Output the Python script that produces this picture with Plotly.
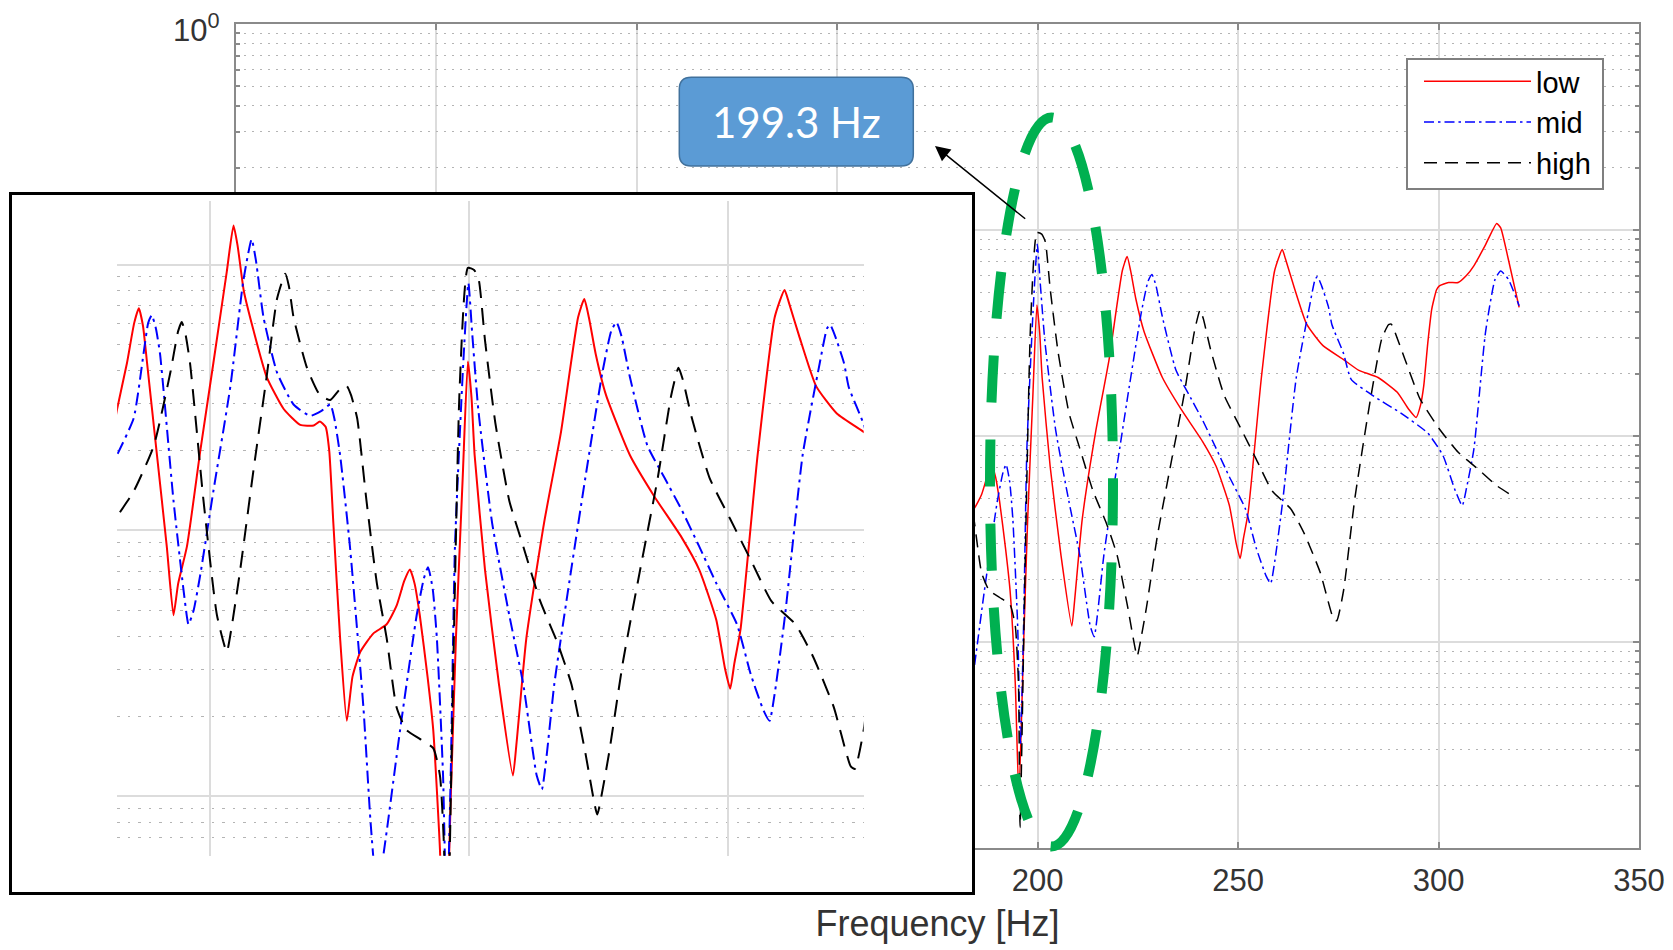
import numpy as np
import plotly.graph_objects as go

W, H = 1673, 950

# ---------------- data (frequency in Hz, magnitude as log10) -------------
low_freq = [130.0, 132.0, 133.9, 135.3, 136.2, 137.0, 137.8, 139.7, 141.6, 142.9, 143.8, 145.5,
            148.1, 150.6, 153.2, 154.5, 155.3, 156.5, 158.4, 160.9, 164.2, 167.4, 170.0, 171.2,
            172.3, 173.0, 173.8, 175.1, 176.4, 177.5, 179.0, 181.5, 184.1, 186.0, 187.5, 188.6,
            189.5, 190.5, 192.0, 193.1, 194.4, 195.3, 196.5, 197.5, 198.8, 199.8, 200.5, 201.1,
            203.1, 205.8, 208.5, 209.2, 211.1, 214.5, 217.8, 221.1, 222.3, 223.2, 224.5, 226.5,
            231.1, 235.8, 241.1, 244.5, 247.8, 249.5, 250.5, 251.3, 252.5, 255.8, 259.1, 261.0,
            261.8, 263.8, 267.1, 271.1, 276.3, 280.0, 284.9, 289.7, 292.5, 294.4, 295.5, 296.3,
            297.3, 298.3, 299.5, 300.2, 302.5, 304.9, 307.0, 308.8, 311.5, 314.5, 315.5, 317.4,
            320.1]
low_log10 = [-1.75, -1.543, -1.371, -1.22, -1.164, -1.23, -1.371, -1.716, -2.06, -2.319, -2.20, -2.06,
             -1.698, -1.371, -1.026, -0.853, -0.93, -1.10, -1.25, -1.422, -1.543, -1.603, -1.605, -1.59,
             -1.61, -1.70, -1.974, -2.405, -2.716, -2.55, -2.457, -2.388, -2.353, -2.284, -2.19, -2.147,
             -2.20, -2.319, -2.55, -2.75, -3.2, -3.75, -3.0, -2.4, -1.8, -1.364, -1.50, -1.716,
             -2.147, -2.578, -2.922, -2.8, -2.405, -1.974, -1.629, -1.198, -1.129, -1.20, -1.336, -1.491,
             -1.716, -1.871, -2.026, -2.147, -2.336, -2.52, -2.595, -2.50, -2.371, -1.716, -1.198, -1.095,
             -1.14, -1.267, -1.457, -1.56, -1.629, -1.68, -1.716, -1.788, -1.869, -1.91, -1.85, -1.757,
             -1.55, -1.384, -1.29, -1.271, -1.255, -1.255, -1.22, -1.174, -1.08, -0.968, -0.99, -1.142,
             -1.376]

mid_freq = [130.0, 132.0, 135.2, 137.1, 138.0, 138.7, 139.5, 140.3, 142.9, 145.0, 145.8, 146.8,
            148.1, 150.6, 153.9, 156.4, 158.0, 158.8, 160.3, 162.9, 166.1, 169.3, 171.5, 173.2,
            174.0, 175.1, 177.0, 179.6, 181.0, 182.2, 183.5, 186.7, 189.9, 191.3, 192.1, 193.0,
            193.8, 195.0, 195.7, 196.5, 197.3, 198.9, 199.9, 200.6, 201.8, 204.5, 207.8, 210.5,
            213.1, 214.1, 215.0, 216.5, 219.1, 222.5, 225.8, 227.5, 228.5, 229.5, 231.1, 234.5,
            237.8, 241.1, 244.5, 247.8, 251.8, 254.5, 257.0, 258.1, 259.2, 261.1, 264.5, 267.8,
            269.2, 269.8, 270.8, 272.5, 273.4, 276.3, 278.2, 283.9, 290.6, 297.3, 301.1, 304.0,
            305.9, 307.0, 308.8, 311.7, 314.1, 315.5, 317.4, 320.1]
mid_log10 = [-1.80, -1.716, -1.578, -1.336, -1.22, -1.19, -1.24, -1.336, -1.888, -2.25, -2.353, -2.30,
             -2.164, -1.853, -1.457, -1.06, -0.905, -0.98, -1.198, -1.405, -1.526, -1.569, -1.55, -1.526,
             -1.58, -1.716, -2.06, -2.664, -3.10, -3.35, -3.216, -2.75, -2.319, -2.18, -2.138, -2.22,
             -2.405, -2.922, -3.5, -2.9, -2.06, -1.371, -1.069, -1.25, -1.543, -1.974, -2.319, -2.578,
             -2.922, -2.974, -2.85, -2.578, -2.233, -1.802, -1.405, -1.25, -1.216, -1.27, -1.422, -1.681,
             -1.802, -1.922, -2.06, -2.198, -2.353, -2.543, -2.68, -2.716, -2.60, -2.319, -1.716, -1.371,
             -1.24, -1.226, -1.27, -1.371, -1.46, -1.60, -1.725, -1.808, -1.889, -1.986, -2.095, -2.257,
             -2.338, -2.25, -2.065, -1.498, -1.239, -1.199, -1.239, -1.368]

high_freq = [130.0, 132.0, 135.2, 139.1, 142.3, 143.8, 144.5, 145.2, 146.1, 148.7, 151.3, 153.2,
             154.0, 155.8, 158.4, 160.9, 162.9, 164.5, 165.2, 166.1, 168.7, 171.2, 173.2, 175.0,
             176.4, 177.2, 178.4, 180.2, 182.2, 184.1, 186.0, 187.9, 190.5, 193.1, 194.4, 195.2,
             195.6, 196.5, 197.3, 198.2, 199.8, 201.0, 201.9, 203.1, 205.1, 207.8, 210.5, 213.8,
             217.1, 219.8, 222.5, 224.8, 225.6, 227.1, 229.8, 233.1, 236.5, 239.1, 240.5, 241.3,
             243.1, 246.5, 250.5, 254.5, 258.5, 263.1, 266.5, 270.5, 273.8, 274.6, 276.3, 279.1,
             283.0, 285.8, 287.5, 288.2, 289.0, 291.6, 295.4, 300.2, 304.9, 309.8, 314.5, 318.9]
high_log10 = [-2.02, -1.948, -1.853, -1.681, -1.405, -1.25, -1.216, -1.26, -1.371, -1.888, -2.319, -2.457,
              -2.38, -2.147, -1.767, -1.422, -1.129, -1.034, -1.08, -1.198, -1.388, -1.491, -1.509, -1.47,
              -1.457, -1.49, -1.578, -1.888, -2.198, -2.405, -2.664, -2.75, -2.784, -2.819, -2.922, -3.20,
              -3.9, -3.0, -2.2, -1.466, -1.012, -1.02, -1.057, -1.284, -1.595, -1.888, -2.06, -2.267,
              -2.422, -2.578, -2.836, -3.069, -3.0, -2.836, -2.491, -2.147, -1.802, -1.491, -1.388, -1.43,
              -1.578, -1.802, -1.957, -2.112, -2.267, -2.353, -2.474, -2.664, -2.888, -2.897, -2.75, -2.305,
              -1.822, -1.53, -1.46, -1.457, -1.49, -1.627, -1.821, -1.966, -2.079, -2.16, -2.241, -2.297]

series_names = ["low", "mid", "high"]
x_label_vals = [200, 250, 300, 350]          # labelled ticks
x_hidden_vals = [0, 50, 100, 150]            # ticks/grid hidden behind the inset labels
y_tick_vals = [1e-4, 1e-3, 1e-2, 1e-1, 1e0]
y_top_label = "10<sup>0</sup>"
inset_x_grid = [150, 200, 250]
callout_text = "199.3 Hz"
x_title = "Frequency [Hz]"

# ---------------- helpers ----------------
def pxx(x):
    return x / W

def pxy(y):
    return 1 - y / H

minor_vals = [k * 10.0 ** e for e in range(-5, 0) for k in range(2, 10)]

colors = ["#ff0000", "#0000ff", "#000000"]
dash_main = ["solid", "10px,4px,2.5px,4px", "13px,8px"]
dash_inset = ["solid", "13px,5px,3px,5px", "17px,10px"]
data = [(low_freq, low_log10), (mid_freq, mid_log10), (high_freq, high_log10)]

fig = go.Figure()

for i, (f, lg) in enumerate(data):
    fig.add_trace(go.Scatter(
        x=f, y=np.power(10.0, np.array(lg)), name=series_names[i], mode="lines",
        line=dict(color=colors[i], width=1.5, dash=dash_main[i], shape="spline", smoothing=0.5),
        xaxis="x", yaxis="y", legendgroup=series_names[i], hoverinfo="skip"))

# placeholder trace that creates the white frame subplot behind the inset
fig.add_trace(go.Scatter(x=[0.5], y=[0.5], mode="markers", marker=dict(opacity=0, size=1),
                         xaxis="x2", yaxis="y2", showlegend=False, hoverinfo="skip"))

for i, (f, lg) in enumerate(data):
    fig.add_trace(go.Scatter(
        x=f, y=np.power(10.0, np.array(lg)), name=series_names[i], mode="lines",
        line=dict(color=colors[i], width=2, dash=dash_inset[i], shape="spline", smoothing=0.5),
        xaxis="x3", yaxis="y3", showlegend=False, hoverinfo="skip"))

grid_major = "#dcdcdc"
grid_minor = "#b4b4b4"
axis_col = "#8a8a8a"
txt_col = "#333333"
font_fam = "Liberation Sans, Arial, sans-serif"

fig.update_layout(
    width=W, height=H, autosize=False,
    margin=dict(l=0, r=0, t=0, b=0, pad=0),
    paper_bgcolor="white", plot_bgcolor="white",
    font=dict(family=font_fam, color=txt_col),
    showlegend=True,
    legend=dict(
        x=pxx(1419), y=pxy(56), xanchor="left", yanchor="top",
        bgcolor="rgba(0,0,0,0)", borderwidth=0,
        font=dict(size=29, color="#000000", family=font_fam),
        itemwidth=107, tracegroupgap=2, traceorder="normal",
    ),
    xaxis=dict(
        domain=[pxx(236), pxx(1639)], anchor="y", range=[0, 350],
        tickmode="array", tickvals=x_label_vals,
        ticks="inside", ticklen=6, tickwidth=1.5, tickcolor=axis_col,
        showline=True, linecolor=axis_col, linewidth=2, mirror="ticks",
        showgrid=True, gridcolor=grid_major, gridwidth=1.5, zeroline=False,
        minor=dict(tickmode="array", tickvals=x_hidden_vals, ticks="inside", ticklen=6,
                   tickwidth=1.5, tickcolor=axis_col, showgrid=True,
                   gridcolor=grid_major, gridwidth=1.5, griddash="solid"),
        tickfont=dict(size=31, color=txt_col), ticklabelstandoff=4,
        title=dict(text=x_title, font=dict(size=36, color=txt_col), standoff=14),
        automargin=False,
    ),
    yaxis=dict(
        domain=[pxy(848), pxy(24)], anchor="x", type="log", range=[-4, 0],
        tickmode="array", tickvals=y_tick_vals, showticklabels=False,
        ticks="inside", ticklen=6, tickwidth=1.5, tickcolor=axis_col,
        showline=True, linecolor=axis_col, linewidth=2, mirror="ticks",
        showgrid=True, gridcolor=grid_major, gridwidth=1.5, zeroline=False,
        minor=dict(tickmode="array", tickvals=minor_vals, ticks="inside", ticklen=4,
                   tickcolor=axis_col, showgrid=True, gridcolor=grid_minor,
                   griddash="2px,6px", gridwidth=1),
        automargin=False,
    ),
    # white framed box behind the inset
    xaxis2=dict(
        domain=[pxx(12.2), pxx(972)], anchor="y2", range=[0, 1],
        showgrid=False, zeroline=False, showticklabels=False, ticks="",
        showline=True, linecolor="#000000", linewidth=3, mirror=True, fixedrange=True,
    ),
    yaxis2=dict(
        domain=[pxy(891.5), pxy(195)], anchor="x2", range=[0, 1],
        showgrid=False, zeroline=False, showticklabels=False, ticks="",
        showline=True, linecolor="#000000", linewidth=3, mirror=True, fixedrange=True,
    ),
    # magnified inset
    xaxis3=dict(
        domain=[pxx(117.1), pxx(863.7)], anchor="y3", range=[132, 276.3],
        tickmode="array", tickvals=inset_x_grid, showticklabels=False, ticks="",
        showgrid=True, gridcolor=grid_major, gridwidth=2, zeroline=False, showline=False,
    ),
    yaxis3=dict(
        domain=[pxy(855.8), pxy(200.6)], anchor="x3", type="log", range=[-3.224, -0.759],
        tickmode="array", tickvals=[1e-3, 1e-2, 1e-1], showticklabels=False, ticks="",
        showgrid=True, gridcolor=grid_major, gridwidth=2, zeroline=False, showline=False,
        minor=dict(tickmode="array", tickvals=minor_vals, ticks="", showgrid=True,
                   gridcolor=grid_minor, griddash="2.5px,8px", gridwidth=1.3),
    ),
)

# legend frame
fig.add_shape(type="rect", xref="paper", yref="paper", layer="above",
              x0=pxx(1407), x1=pxx(1603), y0=pxy(59), y1=pxy(189),
              fillcolor="white", line=dict(color="#7f7f7f", width=2))

# rounded call-out box
x0, x1 = pxx(679.3), pxx(913.3)
y0, y1 = pxy(77.3), pxy(166)
rx, ry = 12 / W, 12 / H
path = (f"M{x0+rx},{y0} L{x1-rx},{y0} Q{x1},{y0} {x1},{y0-ry} L{x1},{y1+ry} Q{x1},{y1} {x1-rx},{y1} "
        f"L{x0+rx},{y1} Q{x0},{y1} {x0},{y1+ry} L{x0},{y0-ry} Q{x0},{y0} {x0+rx},{y0} Z")
fig.add_shape(type="path", path=path, xref="paper", yref="paper", layer="above",
              fillcolor="#5b9bd5", line=dict(color="#41719c", width=1.5))

# green dashed ellipse, drawn as bezier path starting at the top and running counter-clockwise
cx, cy, erx, ery = 1051.5, 482.0, 61.5, 364.5
k = 0.5523
pts = [
    ("M", [(cx, cy - ery)]),
    ("C", [(cx - k * erx, cy - ery), (cx - erx, cy - k * ery), (cx - erx, cy)]),
    ("C", [(cx - erx, cy + k * ery), (cx - k * erx, cy + ery), (cx, cy + ery)]),
    ("C", [(cx + k * erx, cy + ery), (cx + erx, cy + k * ery), (cx + erx, cy)]),
    ("C", [(cx + erx, cy - k * ery), (cx + k * erx, cy - ery), (cx, cy - ery)]),
]
epath = " ".join(cmd + " ".join(f"{pxx(a):.6f},{pxy(b):.6f}" for a, b in p) for cmd, p in pts)
fig.add_shape(type="path", path=epath, xref="paper", yref="paper", layer="above",
              line=dict(color="#00b050", width=10, dash="47px,37px"))

fig.add_annotation(x=pxx(796.4), y=pxy(121.7), xref="paper", yref="paper",
                   text=callout_text, showarrow=False, xanchor="center", yanchor="middle",
                   font=dict(family="Lato, Open Sans, sans-serif", size=42, color="white"))

fig.add_annotation(x=pxx(935), y=pxy(146), xref="paper", yref="paper", text="",
                   showarrow=True, ax=91.7, ay=74, arrowhead=2, arrowsize=2,
                   arrowwidth=1.5, arrowcolor="#000000", standoff=0)

# top y tick label
fig.add_annotation(x=pxx(222), y=pxy(28), xref="paper", yref="paper",
                   text=y_top_label, showarrow=False, xanchor="right", yanchor="middle",
                   font=dict(family=font_fam, size=31, color=txt_col))

fig.write_html("out.html")
